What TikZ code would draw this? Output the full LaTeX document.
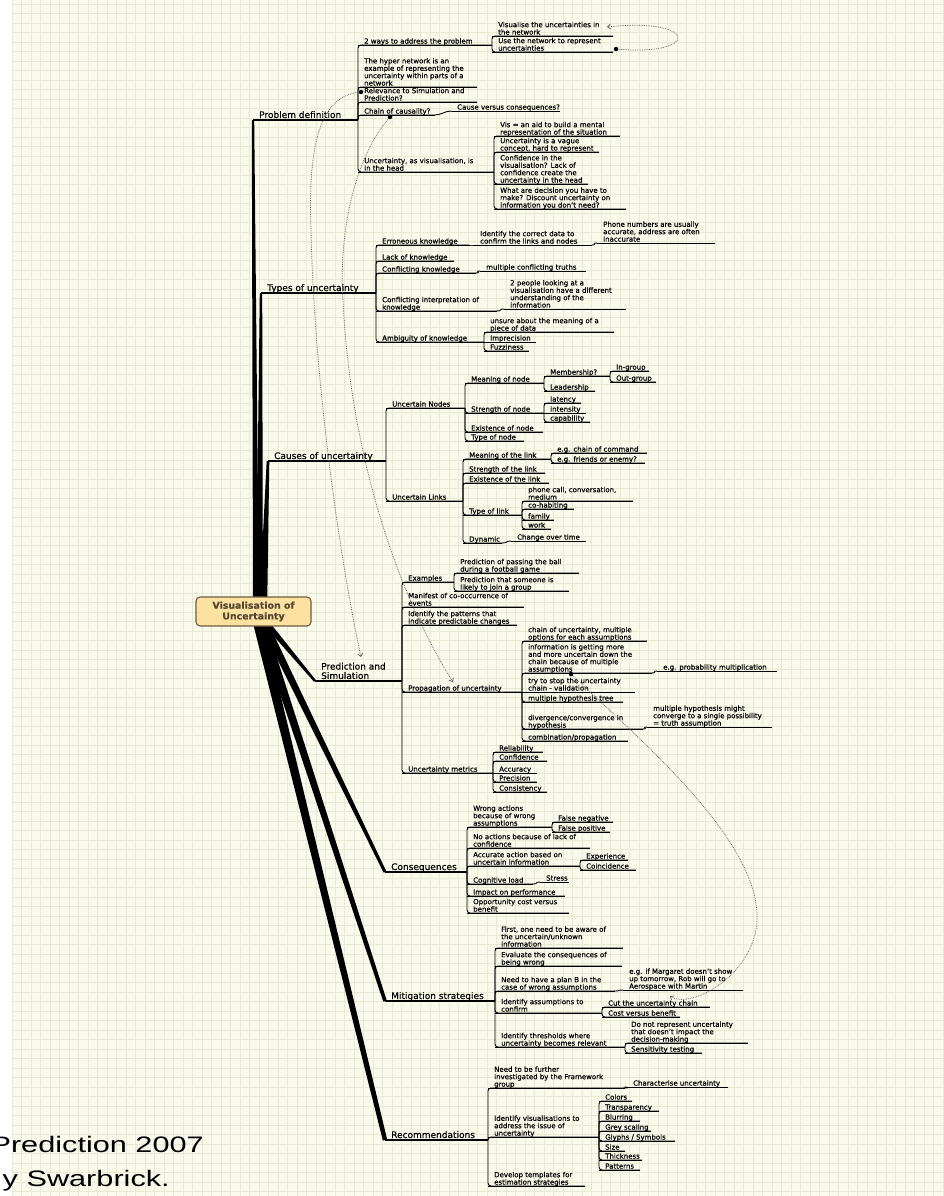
\documentclass[tikz,border=0pt]{standalone}
\usepackage{fontspec}
\setmainfont{DejaVu Sans}[FakeBold=0.5]
\newfontfamily\helv{Liberation Sans}
\usetikzlibrary{calc,arrows.meta}
\pgfdeclarelayer{bgl}
\pgfdeclarelayer{lines}
\pgfsetlayers{bgl,lines,main}
\definecolor{bgc}{RGB}{250,250,236}
\definecolor{gridc}{RGB}{231,234,212}
\definecolor{rootfill}{RGB}{252,225,160}
\definecolor{rootdraw}{RGB}{110,92,64}
\definecolor{roottext}{RGB}{85,70,50}
\definecolor{relc}{RGB}{95,95,95}
\tikzset{
 sub/.style={anchor=south west, inner sep=0pt, align=left, font=\fontsize{7}{7.4}\selectfont},
 maintopic/.style={anchor=south west, inner sep=0pt, align=left, font=\fontsize{9}{9.4}\selectfont},
 ul/.style={line width=0.9pt, black},
 mainul/.style={line width=1.4pt, black},
 rel/.style={densely dotted, line width=0.75pt, relc, -{Straight Barb[length=3pt,width=5pt]}},
 dotc/.style={fill=black, circle, inner sep=0pt, minimum size=4.5pt},
 rootn/.style={draw=rootdraw, fill=rootfill, rounded corners=4pt, line width=1.1pt, minimum width=115pt, minimum height=29pt, inner sep=0pt, align=center, font=\bfseries\fontsize{9.4}{10.7}\selectfont, text=roottext},
}
\newcommand\tpc[5]{%
 \coordinate (#1L) at (#2,#4);
 \coordinate (#1R) at (#3,#4);
 \node[sub] (#1) at (#2+6,#4+1) {#5\strut};
 \draw[ul] (#1L) -- (#1R);}
\newcommand\mtp[5]{%
 \coordinate (#1L) at (#2,#4);
 \coordinate (#1R) at (#3,#4);
 \node[maintopic] (#1) at (#2+6,#4+1) {#5\strut};
 \draw[mainul] (#1L) -- (#1R);}
\newcommand\brk[2]{\draw[ul, rounded corners=3pt] (#1R) |- (#2R);}
\newcommand\chn[2]{\draw[ul] (#1R) .. controls +(6,0) and +(-6,0) .. (#2L);}
\newcommand\taper[4]{\fill ($(#1)!#3!90:(#2)$) -- ($(#2)!#4!-90:(#1)$) -- ($(#2)!#4!90:(#1)$) -- ($(#1)!#3!-90:(#2)$) -- cycle;}
\begin{document}
\begin{tikzpicture}[x=1pt,y=-1pt]
\useasboundingbox (0,0) rectangle (944,1196);
\begin{pgfonlayer}{bgl}
 \fill[white] (0,0) rectangle (944,1196);
 \fill[bgc] (12,0) rectangle (944,1196);
 \foreach \x in {12,21.5,...,944} \draw[gridc, line width=0.5pt] (\x,0) -- (\x,1196);
 \foreach \y in {4,13.5,...,1196} \draw[gridc, line width=0.5pt] (12,\y) -- (944,\y);
\end{pgfonlayer}

% central topic
\node[rootn] (root) at (253.5,611.5) {Visualisation of\\Uncertainty};

% main topics
\mtp{pd}{253}{358}{120}{Problem definition}
\mtp{tu}{261}{376}{293}{Types of uncertainty}
\mtp{cu}{268}{386}{461}{Causes of uncertainty}
\mtp{ps}{315}{402}{681}{Prediction and\\Simulation}
\mtp{co}{385}{467}{872}{Consequences}
\mtp{ms}{385}{495}{1001}{Mitigation strategies}
\mtp{re}{385}{488}{1140}{Recommendations}

\begin{pgfonlayer}{lines}
 \taper{$(root.north)+(2.5,2)$}{pdL}{3pt}{1.2pt}
 \taper{$(root.north)+(6,2)$}{tuL}{3.4pt}{1.2pt}
 \taper{$(root.north)+(10,2)$}{cuL}{3.8pt}{1.3pt}
 \taper{$(root.south)+(14,-2)$}{psL}{3pt}{1.2pt}
 \taper{$(root.south)+(11,-2)$}{coL}{4pt}{1.5pt}
 \taper{$(root.south)+(8,-2)$}{msL}{4.5pt}{1.8pt}
 \taper{$(root.south)+(5,-2)$}{reL}{5pt}{2.2pt}
\end{pgfonlayer}

% Problem definition
\tpc{pd1}{358}{492}{45}{2 ways to address the problem}
\tpc{pd1a}{492}{613}{36}{Visualise the uncertainties in\\the network}
\tpc{pd1b}{492}{613}{52}{Use the network to represent\\uncertainties}
\tpc{pd2}{358}{477}{87}{The hyper network is an\\example of representing the\\uncertainty within parts of a\\network}
\tpc{pd3}{358}{477}{102}{Relevance to Simulation and\\Prediction?}
\tpc{pd4}{358}{435}{115}{Chain of causality?}
\tpc{pd4a}{451}{560}{111}{Cause versus consequences?}
\tpc{pd5}{358}{494}{172}{Uncertainty, as visualisation, is\\in the head}
\tpc{pd5a}{494}{620}{136}{Vis = an aid to build a mental\\representation of the situation}
\tpc{pd5b}{494}{599}{152}{Uncertainty is a vague\\concept, hard to represent}
\tpc{pd5c}{494}{588}{184}{Confidence in the\\visualisation? Lack of\\confidence create the\\uncertainty in the head}
\tpc{pd5d}{494}{626}{209}{What are decision you have to\\make? Discount uncertainty on\\information you don't need?}
\brk{pd}{pd1}\brk{pd}{pd2}\brk{pd}{pd3}\brk{pd}{pd4}\brk{pd}{pd5}
\brk{pd1}{pd1a}\brk{pd1}{pd1b}
\chn{pd4}{pd4a}
\brk{pd5}{pd5a}\brk{pd5}{pd5b}\brk{pd5}{pd5c}\brk{pd5}{pd5d}

% Types of uncertainty
\tpc{tu1}{376}{469}{245}{Erroneous knowledge}
\tpc{tu1a}{474}{592}{245}{Identify the correct data to\\confirm the links and nodes}
\tpc{tu1b}{597}{715}{243}{Phone numbers are usually\\accurate, address are often\\inaccurate}
\tpc{tu2}{376}{454}{261}{Lack of knowledge}
\tpc{tu3}{376}{476}{273}{Conflicting knowledge}
\tpc{tu3a}{480}{586}{271}{multiple conflicting truths}
\tpc{tu4}{376}{497}{311}{Conflicting interpretation of\\knowledge}
\tpc{tu4a}{504}{626}{309}{2 people looking at a\\visualisation have a different\\understanding of the\\information}
\tpc{tu5}{376}{484}{342}{Ambiguity of knowledge}
\tpc{tu5a}{484}{614}{332}{unsure about the meaning of a\\piece of data}
\tpc{tu5b}{484}{536}{342}{Imprecision}
\tpc{tu5c}{484}{529}{351}{Fuzziness}
\brk{tu}{tu1}\brk{tu}{tu2}\brk{tu}{tu3}\brk{tu}{tu4}\brk{tu}{tu5}
\chn{tu1}{tu1a}\chn{tu1a}{tu1b}\chn{tu3}{tu3a}\chn{tu4}{tu4a}
\brk{tu5}{tu5a}\brk{tu5}{tu5c}

% Causes of uncertainty
\tpc{cu1}{386}{465}{408}{Uncertain Nodes}
\tpc{cu1a}{465}{544}{383}{Meaning of node}
\tpc{cu1a1}{544}{610}{376}{Membership?}
\tpc{cu1a1a}{610}{649}{371}{In-group}
\tpc{cu1a1b}{610}{656}{382}{Out-group}
\tpc{cu1a2}{544}{595}{391}{Leadership}
\tpc{cu1b}{465}{544}{413}{Strength of node}
\tpc{cu1b1}{544}{581}{403}{latency}
\tpc{cu1b2}{544}{586}{413}{intensity}
\tpc{cu1b3}{544}{590}{422}{capability}
\tpc{cu1c}{465}{543}{432}{Existence of node}
\tpc{cu1d}{465}{524}{441}{Type of node}
\tpc{cu2}{386}{463}{501}{Uncertain Links}
\tpc{cu2a}{463}{551}{459}{Meaning of the link}
\tpc{cu2a1}{551}{647}{453}{e.g. chain of command}
\tpc{cu2a2}{551}{645}{463}{e.g. friends or enemy?}
\tpc{cu2b}{463}{545}{473}{Strength of the link}
\tpc{cu2c}{463}{549}{483}{Existence of the link}
\tpc{cu2d}{463}{522}{515}{Type of link}
\tpc{cu2d1}{522}{633}{501}{phone call, conversation,\\medium}
\tpc{cu2d2}{522}{574}{509}{co-habiting}
\tpc{cu2d3}{522}{554}{520}{family}
\tpc{cu2d4}{522}{551}{529}{work}
\tpc{cu2e}{463}{502}{543}{Dynamic}
\tpc{cu2e1}{511}{586}{541}{Change over time}
\brk{cu}{cu1}\brk{cu}{cu2}
\brk{cu1}{cu1a}\brk{cu1}{cu1b}\brk{cu1}{cu1c}\brk{cu1}{cu1d}
\brk{cu1a}{cu1a1}\brk{cu1a}{cu1a2}
\brk{cu1a1}{cu1a1a}\brk{cu1a1}{cu1a1b}
\brk{cu1b}{cu1b1}\brk{cu1b}{cu1b3}
\brk{cu2}{cu2a}\brk{cu2}{cu2b}\brk{cu2}{cu2c}\brk{cu2}{cu2d}\brk{cu2}{cu2e}
\brk{cu2a}{cu2a1}\brk{cu2a}{cu2a2}
\brk{cu2d}{cu2d1}\brk{cu2d}{cu2d2}\brk{cu2d}{cu2d3}\brk{cu2d}{cu2d4}
\chn{cu2e}{cu2e1}

% Prediction and Simulation
\tpc{ps1}{402}{454}{582}{Examples}
\tpc{ps1a}{454}{579}{573}{Prediction of passing the ball\\during a football game}
\tpc{ps1b}{454}{569}{591}{Prediction that someone is\\likely to join a group}
\tpc{ps2}{402}{524}{607}{Manifest of co-occurrence of\\events}
\tpc{ps3}{402}{517}{625}{Identify the patterns that\\indicate predictable changes}
\tpc{ps4}{402}{522}{692}{Propagation of uncertainty}
\tpc{ps4a}{522}{647}{641}{chain of uncertainty, multiple\\options for each assumptions}
\tpc{ps4b}{522}{652}{673}{information is getting more\\and more uncertain down the\\chain because of multiple\\assumptions}
\tpc{ps4b1}{657}{777}{671}{e.g. probability multiplication}
\tpc{ps4c}{522}{635}{692}{try to stop the uncertainty\\chain - validation}
\tpc{ps4d}{522}{623}{702}{multiple hypothesis tree}
\tpc{ps4e}{522}{643}{729}{divergence/convergence in\\hypothesis}
\tpc{ps4e1}{647}{772}{727}{multiple hypothesis might\\converge to a single possibility\\= truth assumption}
\tpc{ps4f}{522}{628}{741}{combination/propagation}
\tpc{ps5}{402}{493}{773}{Uncertainty metrics}
\tpc{ps5a}{493}{543}{752}{Reliability}
\tpc{ps5b}{493}{547}{761}{Confidence}
\tpc{ps5c}{493}{537}{773}{Accuracy}
\tpc{ps5d}{493}{537}{782}{Precision}
\tpc{ps5e}{493}{547}{792}{Consistency}
\brk{ps}{ps1}\brk{ps}{ps2}\brk{ps}{ps3}\brk{ps}{ps4}\brk{ps}{ps5}
\brk{ps1}{ps1a}\brk{ps1}{ps1b}
\brk{ps4}{ps4a}\brk{ps4}{ps4b}\brk{ps4}{ps4d}\brk{ps4}{ps4e}\brk{ps4}{ps4f}
\chn{ps4b}{ps4b1}\chn{ps4e}{ps4e1}
\brk{ps5}{ps5a}\brk{ps5}{ps5b}\brk{ps5}{ps5d}\brk{ps5}{ps5e}

% Consequences
\tpc{co1}{467}{552}{827}{Wrong actions\\because of wrong\\assumptions}
\tpc{co1a}{552}{613}{822}{False negative}
\tpc{co1b}{552}{610}{832}{False positive}
\tpc{co2}{467}{590}{848}{No actions because of lack of\\confidence}
\tpc{co3}{467}{580}{866}{Accurate action based on\\uncertain information}
\tpc{co3a}{580}{628}{860}{Experience}
\tpc{co3b}{580}{636}{870}{Coincidence}
\tpc{co4}{467}{533}{884}{Cognitive load}
\tpc{co4a}{540}{569}{882}{Stress}
\tpc{co5}{467}{565}{896}{Impact on performance}
\tpc{co6}{467}{569}{913}{Opportunity cost versus\\benefit}
\brk{co}{co1}\brk{co}{co2}\brk{co}{co3}\brk{co}{co4}\brk{co}{co5}\brk{co}{co6}
\brk{co1}{co1a}\brk{co1}{co1b}
\brk{co3}{co3a}\brk{co3}{co3b}
\chn{co4}{co4a}

% Mitigation strategies
\tpc{ms1}{495}{623}{948}{First, one need to be aware of\\the uncertain/unknown\\information}
\tpc{ms2}{495}{622}{966}{Evaluate the consequences of\\being wrong}
\tpc{ms3}{495}{615}{991}{Need to have a plan B in the\\case of wrong assumptions}
\tpc{ms3a}{623}{743}{990}{e.g. if Margaret doesn't show\\up tomorrow, Rob will go to\\Aerospace with Martin}
\tpc{ms4}{495}{602}{1013}{Identify assumptions to\\confirm}
\tpc{ms4a}{602}{710}{1007}{Cut the uncertainty chain}
\tpc{ms4b}{602}{680}{1017}{Cost versus benefit}
\tpc{ms5}{495}{625}{1047}{Identify thresholds where\\uncertainty becomes relevant}
\tpc{ms5a}{625}{748}{1043}{Do not represent uncertainty\\that doesn't impact the\\decision-making}
\tpc{ms5b}{625}{702}{1053}{Sensitivity testing}
\brk{ms}{ms1}\brk{ms}{ms2}\brk{ms}{ms3}\brk{ms}{ms4}\brk{ms}{ms5}
\chn{ms3}{ms3a}
\brk{ms4}{ms4a}\brk{ms4}{ms4b}
\brk{ms5}{ms5a}\brk{ms5}{ms5b}

% Recommendations
\tpc{re1}{488}{625}{1088}{Need to be further\\investigated by the Framework\\group}
\tpc{re1a}{627}{728}{1087}{Characterise uncertainty}
\tpc{re2}{488}{599}{1137}{Identify visualisations to\\address the issue of\\uncertainty}
\tpc{re2a}{599}{632}{1101}{Colors}
\tpc{re2b}{599}{659}{1111}{Transparency}
\tpc{re2c}{599}{640}{1121}{Blurring}
\tpc{re2d}{599}{651}{1131}{Grey scaling}
\tpc{re2e}{599}{675}{1141}{Glyphs / Symbols}
\tpc{re2f}{599}{625}{1151}{Size}
\tpc{re2g}{599}{642}{1160}{Thickness}
\tpc{re2h}{599}{640}{1170}{Patterns}
\tpc{re3}{488}{585}{1186}{Develop templates for\\estimation strategies}
\brk{re}{re1}\brk{re}{re2}\brk{re}{re3}
\chn{re1}{re1a}
\brk{re2}{re2a}\brk{re2}{re2b}\brk{re2}{re2c}\brk{re2}{re2d}\brk{re2}{re2e}\brk{re2}{re2f}\brk{re2}{re2g}\brk{re2}{re2h}

% relationship links (dotted)
\coordinate (d1a) at (616,49);  \coordinate (d1b) at (607,27);
\coordinate (d2a) at (361,92);  \coordinate (d2b) at (361,657);
\coordinate (d3a) at (390,117); \coordinate (d3b) at (453,682);
\coordinate (d4a) at (571,674); \coordinate (d4b) at (670,996);
\draw[rel] (d1a) .. controls (700,57) and (700,17) .. (d1b);
\draw[rel] (d2a) .. controls (318,95) and (308,150) .. (311,230) .. controls (314,380) and (340,560) .. (d2b);
\draw[rel] (d3a) .. controls (360,150) and (338,220) .. (343,300) .. controls (350,450) and (395,590) .. (d3b);
\draw[rel] (d4a) .. controls (640,740) and (760,840) .. (757,920) .. controls (755,975) and (690,1010) .. (d4b);
\node[dotc] at (d1a) {};
\node[dotc] at (d2a) {};
\node[dotc] at (d3a) {};
\node[dotc] at (d4a) {};

% caption text at bottom left (cut by the left edge, as in the reference)
\node[anchor=base east, inner sep=0pt, font=\helv\fontsize{22.4}{26}\selectfont] (cap1) at (204,1152) {\scalebox{1.37}[1]{Prediction 2007}};
\node[anchor=base east, inner sep=0pt, font=\helv\fontsize{22.4}{26}\selectfont] (cap2) at (170,1186) {\scalebox{1.37}[1]{y Swarbrick.}};
\end{tikzpicture}
\end{document}
